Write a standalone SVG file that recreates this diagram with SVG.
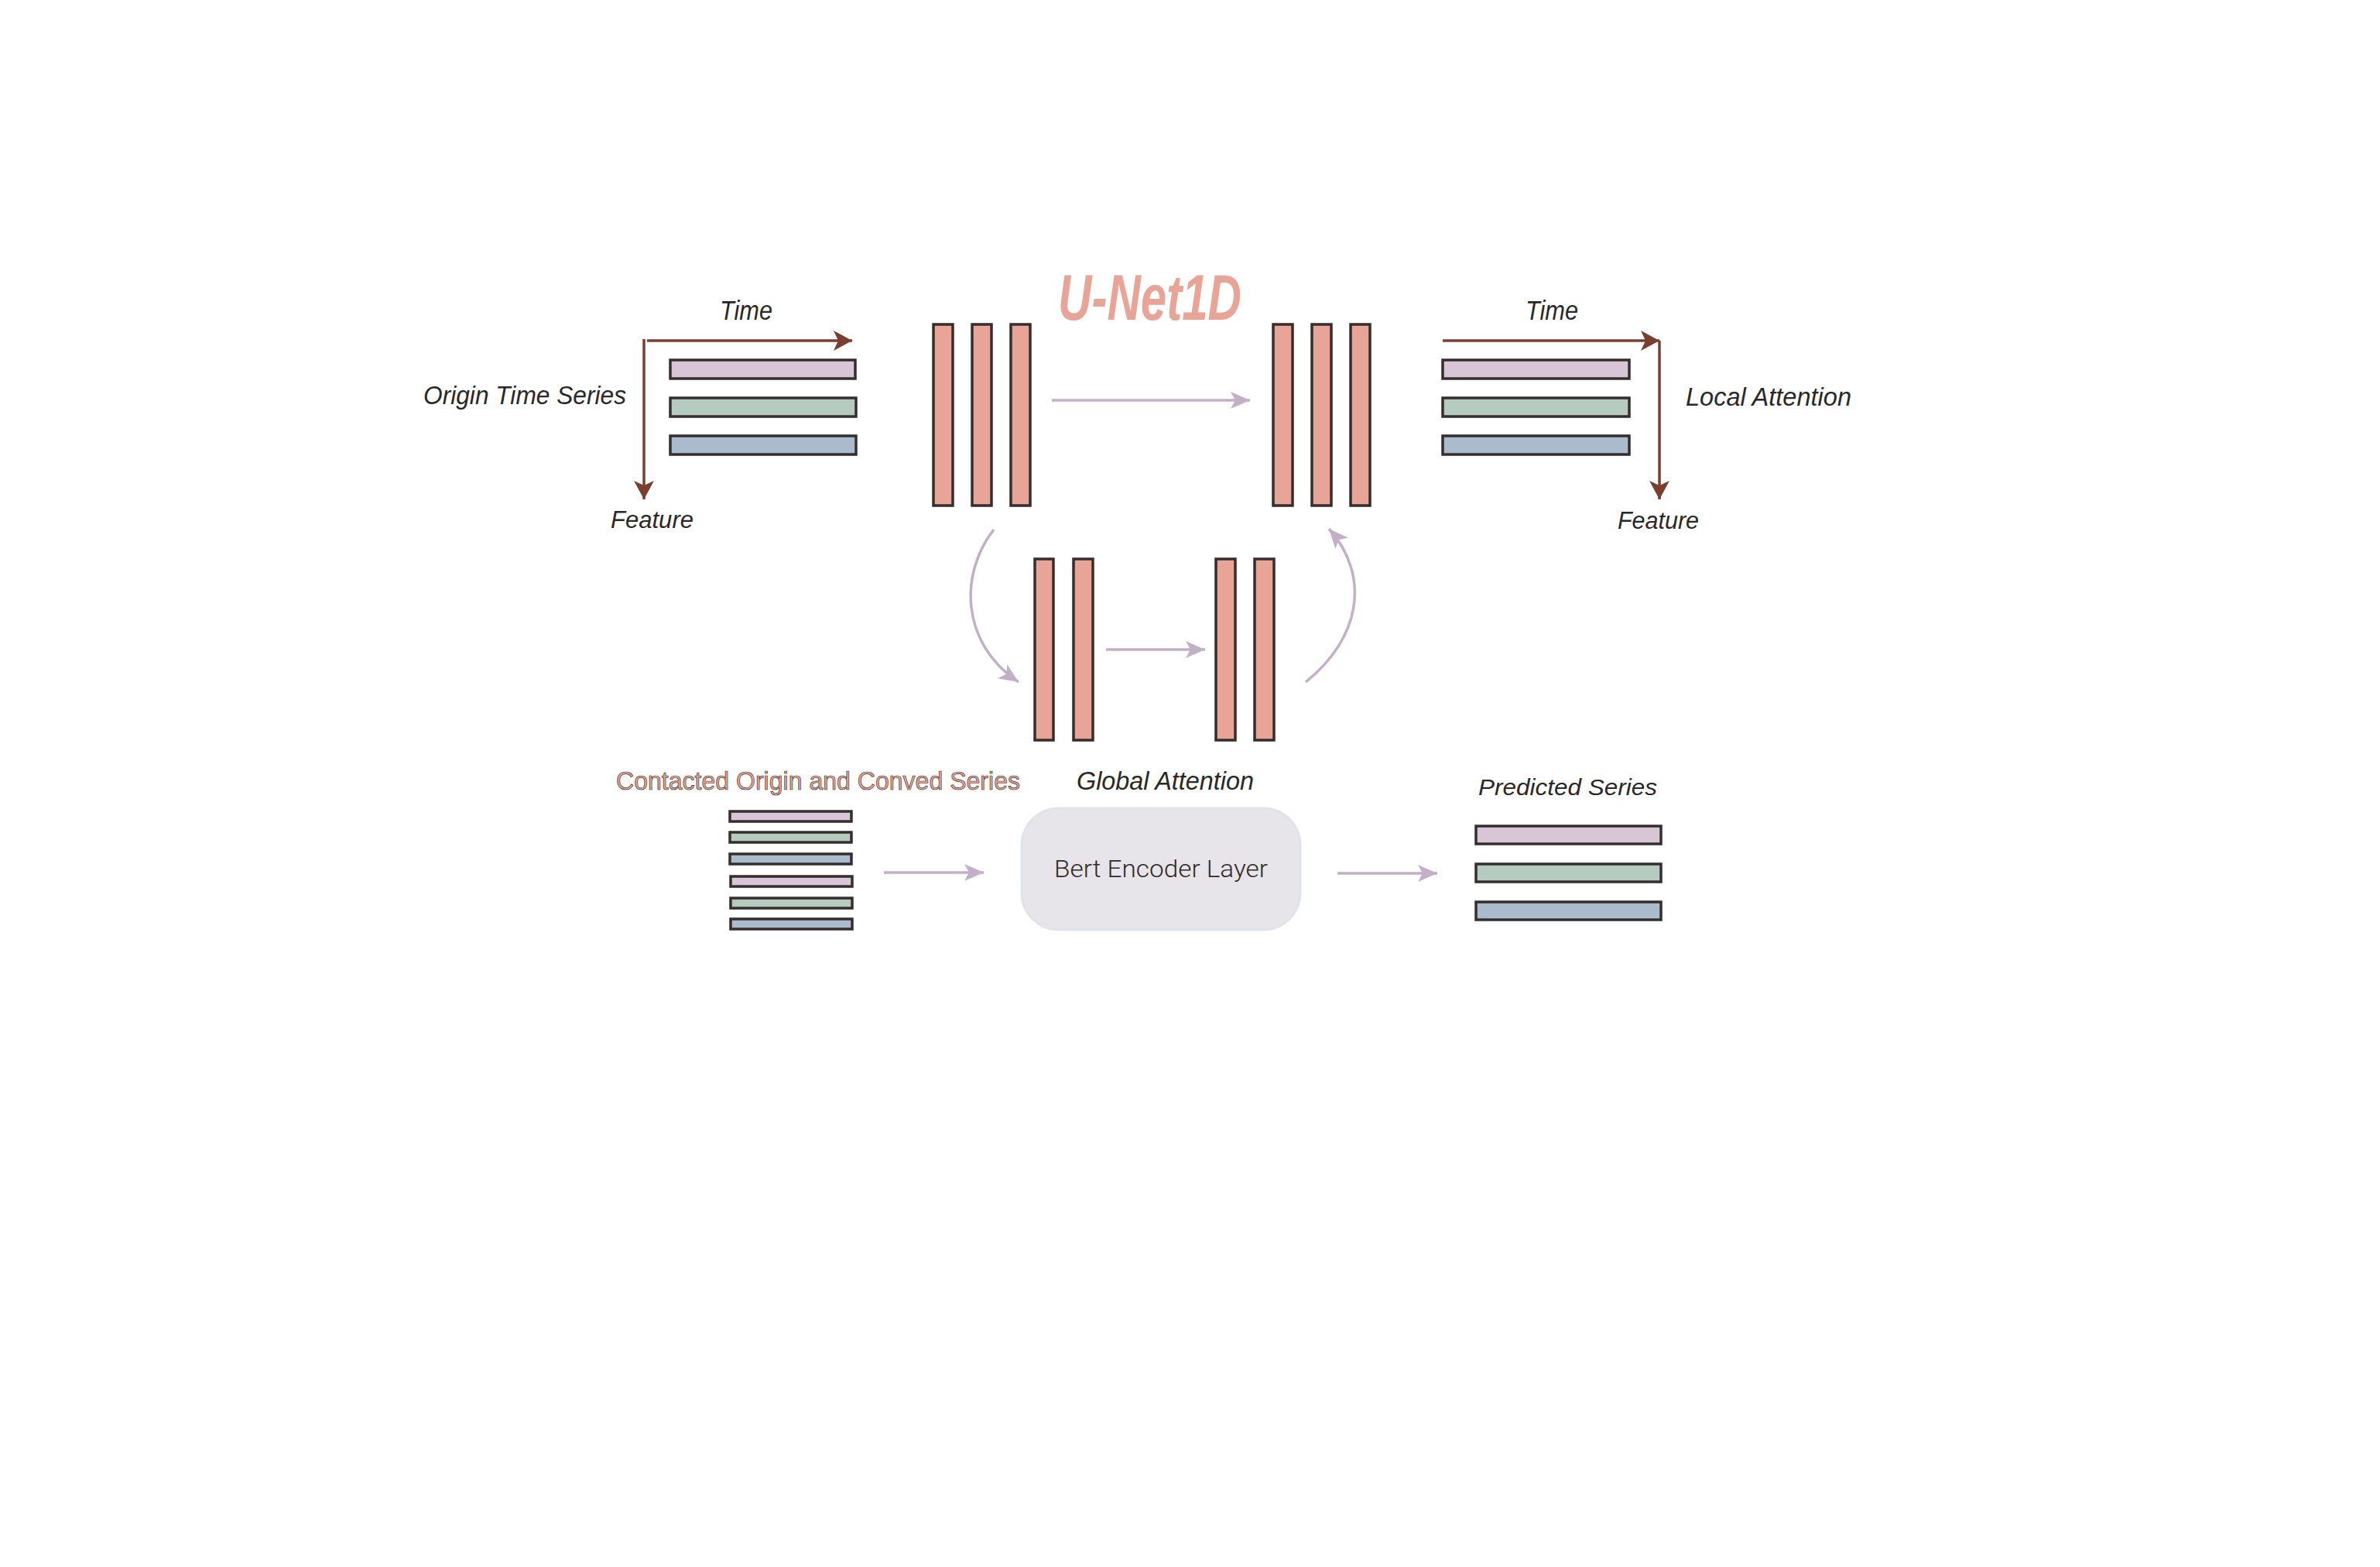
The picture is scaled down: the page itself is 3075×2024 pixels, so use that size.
<svg xmlns="http://www.w3.org/2000/svg" width="3075" height="2024" viewBox="0 0 3075 2024">
<style>
.bar{fill:#e8a597;stroke:#352e2c;stroke-width:3.5}
.s1{fill:#d8c6d6;stroke:#352e2c;stroke-width:3.5}
.s2{fill:#b5cbbf;stroke:#352e2c;stroke-width:3.5}
.s3{fill:#aabbce;stroke:#352e2c;stroke-width:3.5}
.ax{fill:none;stroke:#7b3f2f;stroke-width:3.5}
.fl{fill:none;stroke:#c3b0c8;stroke-width:3.5}
.lab{font-family:"Liberation Sans",Arial,sans-serif;font-style:italic;fill:#2b2727}
</style>
<defs>
<marker id="ah" markerUnits="userSpaceOnUse" markerWidth="26" markerHeight="24" refX="25" refY="12" orient="auto">
<path d="M0,1 L25,12 L0,23 L6,12 Z" fill="#c3b0c8"/>
</marker>
<marker id="ab" markerUnits="userSpaceOnUse" markerWidth="26" markerHeight="28" refX="24" refY="14" orient="auto">
<path d="M0,1 L24,14 L0,27 L6,14 Z" fill="#7b3f2f"/>
</marker>
</defs>
<rect width="3075" height="2024" fill="#ffffff"/>

<g id="title">
<text x="1367" y="413" font-family="Liberation Sans,Arial,sans-serif" font-weight="bold" font-style="italic" font-size="84" fill="#e8a597" textLength="237" lengthAdjust="spacingAndGlyphs">U-Net1D</text>
</g>

<g id="origin-series">
<rect class="s1" x="866" y="465" width="239" height="24"/>
<rect class="s2" x="866" y="514" width="240" height="24"/>
<rect class="s3" x="866" y="563" width="240" height="24"/>
<text class="lab" x="930" y="413" font-size="35" textLength="68" lengthAdjust="spacingAndGlyphs">Time</text>
<text class="lab" x="547" y="522" font-size="33" textLength="262" lengthAdjust="spacingAndGlyphs">Origin Time Series</text>
<text class="lab" x="789" y="682" font-size="31" fill="#333" textLength="107" lengthAdjust="spacingAndGlyphs">Feature</text>
</g>

<g id="encoder-top">
<rect class="bar" x="1206" y="419" width="25" height="234"/>
<rect class="bar" x="1256" y="419" width="25" height="234"/>
<rect class="bar" x="1306" y="419" width="25" height="234"/>
</g>

<g id="decoder-top">
<rect class="bar" x="1645" y="419" width="25" height="234"/>
<rect class="bar" x="1695" y="419" width="25" height="234"/>
<rect class="bar" x="1745" y="419" width="25" height="234"/>
</g>

<g id="encoder-bottom">
<rect class="bar" x="1337" y="722" width="24" height="234"/>
<rect class="bar" x="1387" y="722" width="25" height="234"/>
</g>

<g id="decoder-bottom">
<rect class="bar" x="1571" y="722" width="25" height="234"/>
<rect class="bar" x="1621" y="722" width="25" height="234"/>
<text class="lab" x="1391" y="1020" font-size="33" textLength="229" lengthAdjust="spacingAndGlyphs">Global Attention</text>
</g>

<g id="local-attention">
<rect class="s1" x="1864" y="465" width="241" height="24"/>
<rect class="s2" x="1864" y="514" width="241" height="24"/>
<rect class="s3" x="1864" y="563" width="241" height="24"/>
<text class="lab" x="1971" y="413" font-size="35" textLength="68" lengthAdjust="spacingAndGlyphs">Time</text>
<text class="lab" x="2178" y="524" font-size="33" textLength="214" lengthAdjust="spacingAndGlyphs">Local Attention</text>
<text class="lab" x="2090" y="683" font-size="31" fill="#333" textLength="105" lengthAdjust="spacingAndGlyphs">Feature</text>
</g>

<g id="concat-series">
<text x="796" y="1020" font-family="Liberation Sans,Arial,sans-serif" font-size="33" fill="#e8a597" stroke="#3d302c" stroke-width="0.7" textLength="522" lengthAdjust="spacingAndGlyphs">Contacted Origin and Conved Series</text>
<rect class="s1" x="943" y="1048" width="157" height="13" stroke-width="3"/>
<rect class="s2" x="943" y="1075" width="157" height="13" stroke-width="3"/>
<rect class="s3" x="943" y="1103" width="157" height="13" stroke-width="3"/>
<rect class="s1" x="944" y="1132" width="157" height="13" stroke-width="3"/>
<rect class="s2" x="944" y="1160" width="157" height="13" stroke-width="3"/>
<rect class="s3" x="944" y="1187" width="157" height="13" stroke-width="3"/>
</g>

<g id="bert">
<rect x="1320" y="1044" width="360" height="157" rx="48" ry="48" fill="#e7e4ea" stroke="#dfe4eb" stroke-width="3"/>
<text x="1362" y="1133" font-family="Roboto,'Liberation Sans',sans-serif" font-weight="300" font-size="31" fill="#2f2b2b" textLength="276" lengthAdjust="spacingAndGlyphs">Bert Encoder Layer</text>
</g>

<g id="predicted">
<text class="lab" x="1910" y="1027" font-size="29" fill="#333" textLength="231" lengthAdjust="spacingAndGlyphs">Predicted Series</text>
<rect class="s1" x="1907" y="1067" width="239" height="23"/>
<rect class="s2" x="1907" y="1116" width="239" height="23"/>
<rect class="s3" x="1907" y="1165" width="239" height="23"/>
</g>

<g id="connectors">
<line class="ax" x1="836" y1="440" x2="1101" y2="440" marker-end="url(#ab)"/>
<line class="ax" x1="832" y1="438" x2="832" y2="645" marker-end="url(#ab)"/>
<line class="ax" x1="1864" y1="440" x2="2144" y2="440" marker-end="url(#ab)"/>
<line class="ax" x1="2144" y1="440" x2="2144" y2="645" marker-end="url(#ab)"/>
<line class="fl" x1="1359" y1="517" x2="1615" y2="517" marker-end="url(#ah)"/>
<path class="fl" d="M1284,684 C1240,740 1240,830 1316,881" marker-end="url(#ah)"/>
<line class="fl" x1="1429" y1="839" x2="1557" y2="839" marker-end="url(#ah)"/>
<path class="fl" d="M1687,881 C1757,825 1772,745 1717,683" marker-end="url(#ah)"/>
<line class="fl" x1="1142" y1="1127" x2="1271" y2="1127" marker-end="url(#ah)"/>
<line class="fl" x1="1728" y1="1128" x2="1857" y2="1128" marker-end="url(#ah)"/>
</g>
</svg>
